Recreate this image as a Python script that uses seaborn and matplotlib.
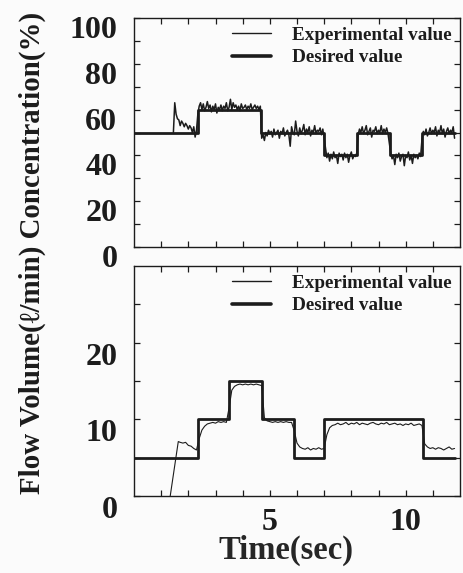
import numpy as np
import pandas as pd
import matplotlib
matplotlib.use("Agg")
import matplotlib.pyplot as plt
import matplotlib.transforms as mtransforms
import seaborn as sns

# ---------------- data ----------------
# Concentration (%) - desired step values (change times, level after change)
conc_des_time = [0.0, 2.36, 4.69, 7.00, 8.20, 9.41, 10.60, 11.80]
conc_des_val = [50, 60, 50, 40, 50, 40, 50, 50]

# Concentration (%) - experimental trace, segments sampled every 0.05 s
conc_dt = 0.05
conc_seg_start = [1.45, 2.35, 4.70, 7.05, 8.25, 9.45, 10.60]
conc_seg_a = [50, 63, 58, 56, 55.5, 53, 55, 54, 52.5, 54, 53, 51.5, 53, 52, 50, 52.5, 48, 51]
conc_seg_b = [58, 61.5, 63, 60, 62.5, 59.5, 61, 63.5, 60.5, 62, 59, 61.5, 60, 62.5, 58.5, 61,
              60, 62, 59.5, 61.5, 60.5, 63, 59.5, 61, 64.5, 60, 63, 61, 62, 60, 61.5, 59.5,
              62.5, 60.5, 61, 62, 60, 61.5, 60.5, 62.5, 60, 61, 62, 60.5, 61.5, 60, 61.5]
conc_seg_c = [47.5, 49, 46.5, 50, 48.5, 51, 49.5, 50.5, 48, 51.5, 49, 50, 51, 47.5, 50.5, 49.5,
              52, 48.5, 50, 51, 49, 44, 52.5, 50, 49, 55, 50.5, 48.5, 52, 49.5, 51, 53.5, 49,
              51.5, 50, 52.5, 48.5, 51, 50, 53, 49.5, 51, 50.5, 52, 49, 51.5]
conc_seg_d = [43, 39, 41, 37.5, 40.5, 38.5, 41.5, 39, 40, 36.5, 41, 39.5, 40.5, 38, 41, 39,
              40.5, 37, 40, 41.5, 38.5, 40, 39.5, 41]
conc_seg_e = [49, 51.5, 50, 52.5, 49.5, 51, 53, 49, 50.5, 52, 48, 51, 50.5, 52.5, 49.5, 51,
              50, 53, 49.5, 51.5, 50, 52, 49.5]
conc_seg_f = [41, 38.5, 40, 36, 40.5, 39, 41, 37.5, 39.5, 40.5, 35.5, 40, 39, 41.5, 38, 40,
              36.5, 40.5, 39, 40, 38.5, 41, 39.5]
conc_seg_g = [47, 50.5, 49, 51.5, 48.5, 50, 52, 49.5, 51, 50, 52.5, 48.5, 51, 50, 53, 49.5,
              51.5, 48, 50.5, 52, 49.5, 51, 50, 52.5, 47.5]

# Flow volume (l/min) - desired step values
flow_des_time = [0.0, 2.34, 3.49, 4.73, 5.88, 7.00, 10.64, 11.80]
flow_des_val = [5, 10, 15, 10, 5, 10, 5, 5]

# Flow volume - experimental trace
flow_exp_time = [1.25, 1.63, 1.70, 1.80, 1.90, 2.00, 2.10, 2.20, 2.30, 2.40, 2.50, 2.60, 2.70,
                 2.80, 2.90, 3.00, 3.10, 3.20, 3.30, 3.40, 3.50, 3.60, 3.70, 3.80, 3.90, 4.00,
                 4.10, 4.20, 4.30, 4.40, 4.50, 4.60, 4.70, 4.80, 4.90, 5.00, 5.10, 5.20, 5.30,
                 5.40, 5.50, 5.60, 5.70, 5.80, 5.90, 6.00, 6.10, 6.20, 6.30, 6.40, 6.50, 6.60,
                 6.70, 6.80, 6.90, 7.00, 7.10, 7.20, 7.30, 7.40, 7.50, 7.60, 7.70, 7.80, 7.90,
                 8.00, 8.10, 8.20, 8.30, 8.40, 8.50, 8.60, 8.70, 8.80, 8.90, 9.00, 9.10, 9.20,
                 9.30, 9.40, 9.50, 9.60, 9.70, 9.80, 9.90, 10.00, 10.10, 10.20, 10.30, 10.40,
                 10.50, 10.60, 10.70, 10.80, 10.90, 11.00, 11.10, 11.20, 11.30, 11.40, 11.50,
                 11.60, 11.70, 11.80]
flow_exp_val = [-2.0, 7.1, 7.0, 6.9, 7.0, 6.6, 6.5, 6.2, 6.0, 7.5, 8.6, 9.1, 9.4,
                9.5, 9.6, 9.5, 9.7, 9.6, 9.7, 9.6, 11.5, 13.8, 14.3, 14.5, 14.6, 14.5,
                14.6, 14.5, 14.6, 14.5, 14.6, 14.5, 14.4, 10.2, 9.8, 9.7, 9.6, 9.7, 9.6,
                9.7, 9.6, 9.7, 9.6, 9.6, 8.5, 6.9, 6.4, 6.2, 6.1, 6.3, 6.0, 6.2,
                6.1, 6.3, 6.1, 6.2, 8.0, 8.9, 9.2, 9.3, 9.5, 9.3, 9.4, 9.6, 9.3,
                9.5, 9.4, 9.6, 9.3, 9.5, 9.4, 9.3, 9.5, 9.6, 9.4, 9.3, 9.5, 9.4,
                9.6, 9.3, 9.4, 9.5, 9.3, 9.4, 9.2, 9.4, 9.3, 9.5, 9.2, 9.3,
                9.4, 9.2, 6.8, 6.4, 6.2, 6.3, 6.1, 6.3, 6.2, 6.0, 6.2,
                6.4, 6.1, 6.2]

conc_ticks = [0, 20, 40, 60, 80, 100]
flow_ticks = [0, 10, 20]
time_ticks = [5, 10]

# ---------------- build frames ----------------
segs = [conc_seg_a, conc_seg_b, conc_seg_c, conc_seg_d, conc_seg_e, conc_seg_f, conc_seg_g]
ct, cv = [], []
for s0, seg in zip(conc_seg_start, segs):
    for i, v in enumerate(seg):
        ct.append(s0 + conc_dt * i)
        cv.append(v)
conc_exp = pd.DataFrame({"t": ct, "v": cv})
conc_des = pd.DataFrame({"t": conc_des_time, "v": conc_des_val})
flow_exp = pd.DataFrame({"t": flow_exp_time, "v": flow_exp_val})
flow_des = pd.DataFrame({"t": flow_des_time, "v": flow_des_val})

# ---------------- style ----------------
sns.set_style("ticks")
ink = "#1c1c1c"
plt.rcParams["font.family"] = ["Liberation Serif", "DejaVu Serif"]
plt.rcParams["font.weight"] = "bold"
plt.rcParams["axes.edgecolor"] = ink
plt.rcParams["xtick.color"] = ink
plt.rcParams["ytick.color"] = ink
plt.rcParams["text.color"] = ink

fig = plt.figure(figsize=(4.63, 5.73), dpi=100, facecolor="#fbfbfb")
ax1 = fig.add_axes([134 / 463, 1 - 247 / 573, 326 / 463, 229 / 573])
ax2 = fig.add_axes([134 / 463, 1 - 496 / 573, 326 / 463, 230 / 573])

des_lw = 2.0

for ax, exp_df, des_df, exp_lw in [(ax1, conc_exp, conc_des, 1.1), (ax2, flow_exp, flow_des, 0.8)]:
    ax.set_facecolor("#fbfbfb")
    sns.lineplot(data=exp_df, x="t", y="v", ax=ax, color=ink, lw=exp_lw,
                 estimator=None, sort=False, label="Experimental value")
    sns.lineplot(data=des_df, x="t", y="v", ax=ax, color=ink, lw=des_lw,
                 estimator=None, sort=False, drawstyle="steps-post", label="Desired value")
    ax.set_xlim(0, 12)
    ax.set_xlabel("")
    ax.set_ylabel("")
    for sp in ax.spines.values():
        sp.set_visible(True)
        sp.set_linewidth(1.0)
    ax.tick_params(which="both", direction="in", top=True, right=True,
                   length=4, width=0.9)
    ax.set_xticks(time_ticks)
    ax.set_xticks(np.arange(1, 12), minor=True)
    leg = ax.legend(loc="upper right", frameon=False, fontsize=13.8,
                    handlelength=2.0, handletextpad=1.1, labelspacing=0.25,
                    borderaxespad=0.15, borderpad=0.3)
    leg.get_lines()[0].set_linewidth(1.0)
    leg.get_lines()[1].set_linewidth(2.6)
    for txt in leg.get_texts():
        txt.set_fontweight("bold")

# top panel
ax1.set_ylim(0, 100)
ax1.set_yticks(conc_ticks)
ax1.set_yticks(np.arange(10, 100, 20), minor=True)
ax1.tick_params(axis="x", which="both", labelbottom=False)
ax1.tick_params(axis="y", labelsize=23, pad=12)

# bottom panel
ax2.set_ylim(0, 30)
ax2.set_yticks(flow_ticks)
ax2.set_yticks([5, 15, 25], minor=True)
ax2.tick_params(axis="y", labelsize=23, pad=12)
ax2.tick_params(axis="x", labelsize=23, pad=9)
ax2.set_xlabel("Time(sec)", fontsize=23.5, fontweight="bold", labelpad=2)
ax2.xaxis.set_label_coords(0.465, -0.168)

for ax, dy in [(ax1, -9), (ax2, -11)]:
    off = mtransforms.ScaledTranslation(0, dy / 100, fig.dpi_scale_trans)
    for lab in ax.get_yticklabels():
        lab.set_transform(lab.get_transform() + off)
        lab.set_fontweight("bold")
for lab in ax2.get_xticklabels():
    lab.set_fontweight("bold")

fig.text(32 / 463, 1 - 253 / 573, "Flow Volume(\u2113/min) Concentration(%)",
         rotation=90, ha="center", va="center", fontsize=20.8, fontweight="bold")

fig.savefig("out.png", dpi=100, facecolor=fig.get_facecolor())
